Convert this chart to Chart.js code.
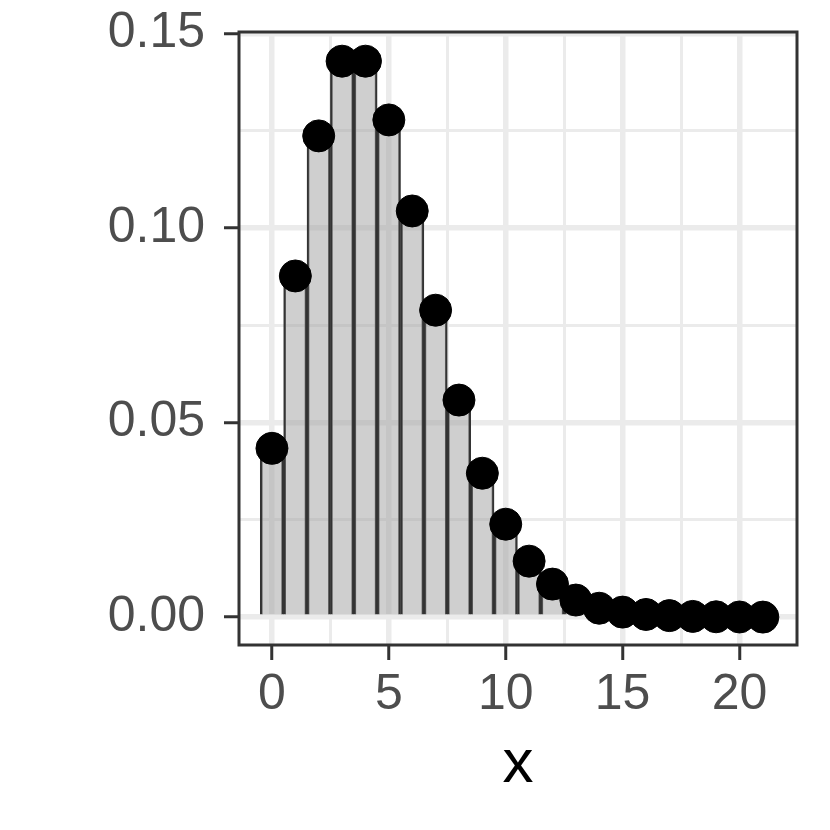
<!DOCTYPE html>
<html>
<head>
<meta charset="utf-8">
<script src="https://cdn.jsdelivr.net/npm/chart.js@4"></script>
<style>
  body { margin: 0; background: #fff; }
</style>
</head>
<body>
<canvas id="chart" width="830" height="830"></canvas>
<script>
// values
const xs = [0, 1, 2, 3, 4, 5, 6, 7, 8, 9, 10, 11, 12, 13, 14, 15, 16, 17, 18, 19, 20, 21];
const probs = [0.0434, 0.0877, 0.1237, 0.1429, 0.1429, 0.1278, 0.1044, 0.0789, 0.0558, 0.037,
  0.0239, 0.0144, 0.0085, 0.0044, 0.0023, 0.0013, 0.0007, 0.0004, 0.0002, 0.0001, 0.00005, 0.00002];
const xTicks = [0, 2.5, 5, 7.5, 10, 12.5, 15, 17.5, 20];
const yTicks = [0, 0.025, 0.05, 0.075, 0.1, 0.125, 0.15];

const isMajor = (v, step) => Math.abs(v / step - Math.round(v / step)) < 1e-6;
const major = (c, step) => !!(c && c.tick && isMajor(c.tick.value, step));

const panelBorder = {
  id: "panelBorder",
  afterDatasetsDraw(chart) {
    const { ctx, chartArea: a } = chart;
    ctx.save();
    ctx.strokeStyle = "#333333";
    ctx.lineWidth = 3;
    ctx.strokeRect(a.left, a.top, a.right - a.left, a.bottom - a.top);
    ctx.restore();
  },
};

const pts = xs.map((x, i) => ({ x: x, y: probs[i] }));

new Chart(document.getElementById("chart"), {
  type: "bar",
  data: {
    datasets: [
      {
        type: "bar",
        data: pts,
        backgroundColor: "rgba(160,160,160,0.5)",
        borderColor: "#333333",
        borderWidth: 2,
        barPercentage: 1,
        categoryPercentage: 1,
        order: 2,
      },
      {
        type: "scatter",
        data: pts,
        backgroundColor: "#000",
        borderColor: "#000",
        pointRadius: 16,
        pointHoverRadius: 16,
        order: 1,
      },
    ],
  },
  options: {
    responsive: false,
    animation: false,
    events: [],
    layout: { padding: { top: 32, right: 33, left: 0, bottom: 0 } },
    plugins: { legend: { display: false }, tooltip: { enabled: false } },
    scales: {
      x: {
        type: "linear",
        min: -1.41,
        max: 22.46,
        offset: false,
        afterBuildTicks: (s) => { s.ticks = xTicks.map((v) => ({ value: v })); },
        afterFit: (s) => { s.height = 185; s.paddingLeft = 0; s.paddingRight = 0; },
        border: { display: false },
        grid: {
          offset: false,
          color: "#ebebeb",
          lineWidth: (c) => (major(c, 5) ? 5.5 : 3),
          tickColor: (c) => (major(c, 5) ? "#333333" : "rgba(0,0,0,0)"),
          tickWidth: 3,
          tickLength: 15,
        },
        ticks: {
          autoSkip: false,
          maxRotation: 0,
          padding: 5,
          color: "#4d4d4d",
          font: { family: "Liberation Sans", size: 50 },
          callback: (v) => (isMajor(v, 5) ? String(v) : ""),
        },
        title: {
          display: true,
          text: "x",
          color: "#000",
          font: { family: "Liberation Sans", size: 62 },
          padding: { top: 0, bottom: 28 },
        },
      },
      y: {
        min: -0.00715,
        max: 0.1504,
        afterBuildTicks: (s) => { s.ticks = yTicks.map((v) => ({ value: v })); },
        afterFit: (s) => { s.width = 239; s.paddingTop = 0; s.paddingBottom = 0; },
        border: { display: false },
        grid: {
          color: "#ebebeb",
          lineWidth: (c) => (major(c, 0.05) ? 5.5 : 3),
          tickColor: (c) => (major(c, 0.05) ? "#333333" : "rgba(0,0,0,0)"),
          tickWidth: 3,
          tickLength: 15,
        },
        ticks: {
          autoSkip: false,
          padding: 19,
          color: "#4d4d4d",
          font: { family: "Liberation Sans", size: 50 },
          callback: (v) => (isMajor(v, 0.05) ? v.toFixed(2) : ""),
        },
      },
    },
  },
  plugins: [panelBorder],
});
</script>
</body>
</html>
